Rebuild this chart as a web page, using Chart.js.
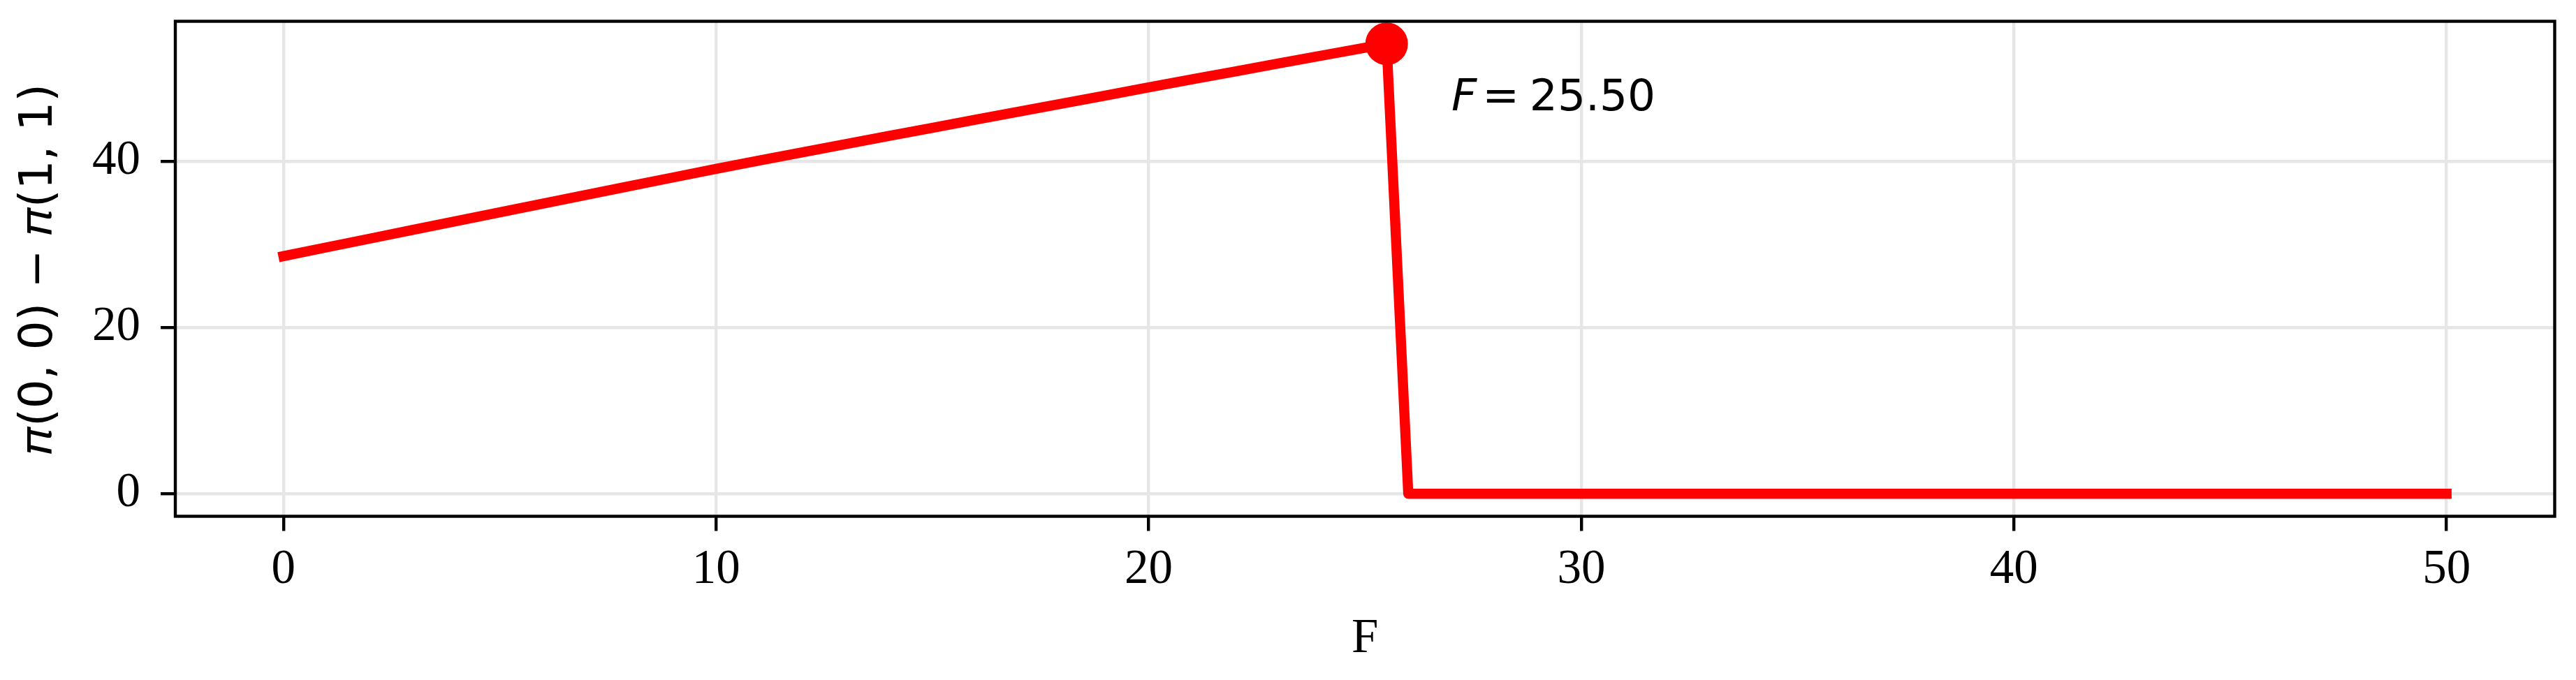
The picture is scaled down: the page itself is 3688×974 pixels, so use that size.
<!DOCTYPE html>
<html>
<head>
<meta charset="utf-8">
<script src="https://cdn.jsdelivr.net/npm/chart.js@4/dist/chart.umd.min.js"></script>
<style>
html, body { margin: 0; padding: 0; background: #ffffff; }
canvas { display: block; }
</style>
</head>
<body>
<canvas id="chart" width="3688" height="974"></canvas>
<script>
// ---- data ----
const fValues = [0, 1, 2, 3, 4, 5, 6, 7, 8, 9, 10, 11, 12, 13, 14, 15, 16, 17, 18, 19, 20,
  21, 22, 23, 24, 25, 25.5, 26, 27, 28, 29, 30, 31, 32, 33, 34, 35, 36, 37, 38, 39, 40,
  41, 42, 43, 44, 45, 46, 47, 48, 49, 50];
const payoffDiff = [28.60, 29.66, 30.71, 31.77, 32.82, 33.87, 34.92, 35.97, 37.02, 38.06, 39.10,
  40.10, 41.09, 42.08, 43.06, 44.04, 45.02, 45.99, 46.96, 47.93, 48.90,
  49.87, 50.83, 51.78, 52.73, 53.67, 54.15, 0, 0, 0, 0, 0, 0, 0, 0, 0, 0, 0, 0, 0, 0, 0,
  0, 0, 0, 0, 0, 0, 0, 0, 0, 0];
const peakF = [25.5];
const peakValue = [54.15];
const xTickValues = [0, 10, 20, 30, 40, 50];
const yTickValues = [0, 20, 40];
const xAxisTitle = 'F';
const yAxisTitle = '\u{1D70B}(0, 0) \u2212 \u{1D70B}(1, 1)';
const annotationVar = 'F';
const annotationRel = '=';
const annotationNumber = peakF[0].toFixed(2);
const annotationOffsetF = 1.5;
const annotationOffsetY = -8;

// ---- build chart ----
const mainPoints = fValues.map((f, i) => ({ x: f, y: payoffDiff[i] }));
const peakPoints = peakF.map((f, i) => ({ x: f, y: peakValue[i] }));

const serif = "'Liberation Serif', 'DejaVu Serif', serif";
const sans = "'DejaVu Sans', sans-serif";

const framePlugin = {
  id: 'frame',
  afterDatasetsDraw(chart) {
    const { ctx, chartArea: a } = chart;
    ctx.save();
    ctx.strokeStyle = '#000000';
    ctx.lineWidth = 4.4;
    ctx.lineJoin = 'miter';
    ctx.strokeRect(a.left, a.top, a.right - a.left, a.bottom - a.top);
    ctx.restore();
  }
};

const annotationPlugin = {
  id: 'peakAnnotation',
  afterDraw(chart) {
    const { ctx } = chart;
    const xs = chart.scales.x, ys = chart.scales.y;
    const fs = 63;
    const px = xs.getPixelForValue(peakF[0] + annotationOffsetF);
    const py = ys.getPixelForValue(peakValue[0] + annotationOffsetY);
    ctx.save();
    ctx.fillStyle = '#000000';
    ctx.textBaseline = 'alphabetic';
    ctx.textAlign = 'left';
    ctx.font = 'italic ' + fs + 'px ' + sans;
    ctx.fillText(annotationVar, px, py);
    const wF = ctx.measureText(annotationVar).width;
    ctx.font = fs + 'px ' + sans;
    const x1 = px + wF + 0.125 * fs;
    ctx.fillText(annotationRel, x1, py);
    const x2 = x1 + ctx.measureText(annotationRel).width + 0.235 * fs;
    ctx.fillText(annotationNumber, x2, py);
    ctx.restore();
  }
};

new Chart(document.getElementById('chart'), {
  type: 'line',
  data: {
    datasets: [
      {
        label: 'peak',
        data: peakPoints,
        showLine: false,
        pointRadius: 30.5,
        pointHoverRadius: 30.5,
        pointBackgroundColor: '#ff0000',
        pointBorderColor: '#ff0000',
        pointBorderWidth: 0,
        clip: false
      },
      {
        label: 'diff',
        data: mainPoints,
        borderColor: '#ff0000',
        backgroundColor: '#ff0000',
        borderWidth: 14.5,
        borderCapStyle: 'square',
        borderJoinStyle: 'round',
        pointRadius: 0,
        pointHoverRadius: 0,
        tension: 0,
        fill: false,
        clip: false
      }
    ]
  },
  options: {
    responsive: false,
    animation: false,
    devicePixelRatio: 1,
    events: [],
    layout: { padding: { top: 28.3, right: 26.3, left: 0, bottom: 0 } },
    plugins: {
      legend: { display: false },
      tooltip: { enabled: false },
      title: { display: false }
    },
    scales: {
      x: {
        type: 'linear',
        min: -2.5,
        max: 52.5,
        afterFit: (s) => { s.height = 234.5; s.paddingLeft = 0; s.paddingRight = 0; },
        afterBuildTicks: (s) => { s.ticks = xTickValues.map(v => ({ value: v })); },
        border: { display: false },
        grid: {
          display: true,
          color: '#e6e6e6',
          lineWidth: 4.4,
          drawTicks: true,
          tickLength: 21,
          tickColor: '#000000',
          tickWidth: 4.4
        },
        ticks: {
          color: '#000000',
          font: { family: serif, size: 69, lineHeight: 1 },
          padding: 21.5,
          maxRotation: 0,
          autoSkip: false
        },
        title: {
          display: true,
          text: xAxisTitle,
          color: '#000000',
          font: { family: serif, size: 69, lineHeight: 1 },
          padding: { top: 0, bottom: 24 }
        }
      },
      y: {
        type: 'linear',
        min: -2.71,
        max: 56.86,
        afterFit: (s) => { s.width = 251; s.paddingTop = 0; s.paddingBottom = 0; },
        afterBuildTicks: (s) => { s.ticks = yTickValues.map(v => ({ value: v })); },
        border: { display: false },
        grid: {
          display: true,
          color: '#e6e6e6',
          lineWidth: 4.4,
          drawTicks: true,
          tickLength: 21,
          tickColor: '#000000',
          tickWidth: 4.4
        },
        ticks: {
          color: '#000000',
          font: { family: serif, size: 69, lineHeight: 1 },
          padding: 29,
          autoSkip: false
        },
        title: {
          display: true,
          text: yAxisTitle,
          color: '#000000',
          font: { family: sans, size: 66, lineHeight: 1 },
          padding: { top: 24, bottom: 0 }
        }
      }
    }
  },
  plugins: [framePlugin, annotationPlugin]
});
</script>
</body>
</html>
